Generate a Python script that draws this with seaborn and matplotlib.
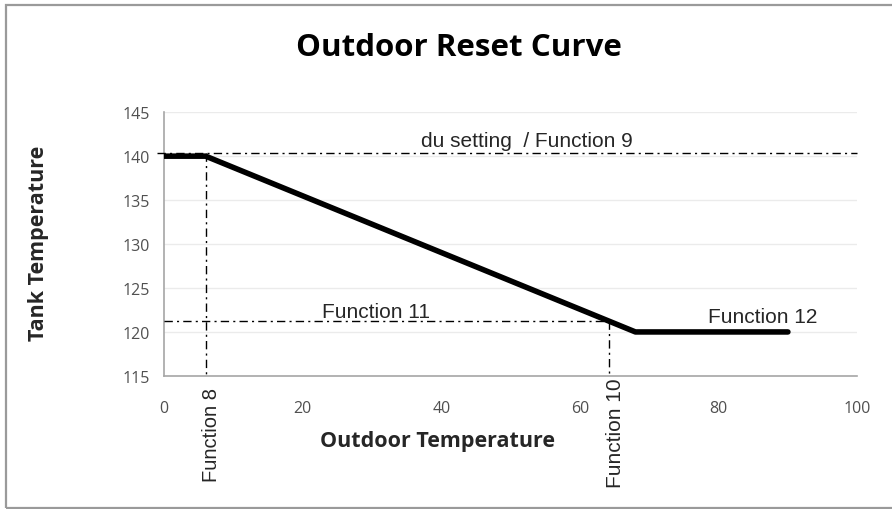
import matplotlib
matplotlib.use("Agg")
import matplotlib.pyplot as plt
import seaborn as sns
import pandas as pd
from matplotlib.patches import Rectangle

# Reset curve break points
outdoor_temp = [0, 6, 68, 90]
tank_temp = [140, 140, 120, 120]

# Reference settings
setting_max = 140.4     # du setting / Function 9
setting_low = 121.2     # Function 11
outdoor_f8 = 6          # Function 8
outdoor_f10 = 64.2      # Function 10

x_ticks = [0, 20, 40, 60, 80, 100]
y_ticks = [115, 120, 125, 130, 135, 140, 145]

sns.set_theme(style="white")
plt.rcParams["font.family"] = ["Liberation Sans", "DejaVu Sans"]
head_font = ["Open Sans", "DejaVu Sans"]

fig = plt.figure(figsize=(8.92, 5.10), dpi=100)
ax = fig.add_axes([0.184, 0.261, 0.777, 0.517])

df = pd.DataFrame({"Outdoor Temperature": outdoor_temp, "Tank Temperature": tank_temp})
sns.lineplot(data=df, x="Outdoor Temperature", y="Tank Temperature", ax=ax,
             color="black", linewidth=4, solid_capstyle="round", zorder=5)

ax.set_xlim(0, 100)
ax.set_ylim(115, 145)
ax.set_xticks(x_ticks)
ax.set_yticks(y_ticks)
ax.grid(axis="y", color="#ebebeb", linewidth=1)
ax.grid(axis="x", visible=False)
for s in ["top", "right"]:
    ax.spines[s].set_visible(False)
for s in ["left", "bottom"]:
    ax.spines[s].set_color("#a6a6a6")
    ax.spines[s].set_linewidth(1.2)
ax.tick_params(length=0, colors="#505050")
ax.tick_params(axis="y", pad=10)
ax.tick_params(axis="x", pad=17)
for lab in ax.get_xticklabels() + ax.get_yticklabels():
    lab.set_family(head_font)
    lab.set_fontsize(11.5)

ax.set_xlabel("Outdoor Temperature", fontsize=15.5, fontweight="bold",
              family=head_font, color="#262626")
ax.xaxis.set_label_coords(0.395, -0.205)
ax.set_ylabel("Tank Temperature", fontsize=15.5, fontweight="bold",
              family=head_font, color="#262626")
ax.yaxis.set_label_coords(-0.166, 0.508)

fig.text(0.515, 0.906, "Outdoor Reset Curve", ha="center", va="center",
         fontsize=22.5, fontweight="bold", family=head_font, color="black")

dash = dict(color="black", linewidth=1, linestyle=(0, (6, 3, 1.5, 3)), zorder=4)
ax.plot([-1, 100], [setting_max, setting_max], clip_on=False, **dash)
ax.plot([0, outdoor_f10], [setting_low, setting_low], clip_on=False, **dash)
ax.plot([outdoor_f8, outdoor_f8], [setting_max, 115], clip_on=False, **dash)
ax.plot([outdoor_f10, outdoor_f10], [setting_low, 115], clip_on=False, **dash)

ax.text(52.3, 141.1, "du setting  / Function 9", ha="center", va="baseline", fontsize=15, zorder=3)
ax.text(30.6, 121.7, "Function 11", ha="center", va="baseline", fontsize=15)
ax.text(86.3, 121.1, "Function 12", ha="center", va="baseline", fontsize=15)
ax.text(6.8, 113.7, "Function 8", rotation=90, ha="center", va="top",
        fontsize=14.5, clip_on=False)
ax.text(65.1, 114.8, "Function 10", rotation=90, ha="center", va="top",
        fontsize=15, clip_on=False)

fig.patches.append(Rectangle((6 / 892, 1 / 510), 900 / 892, (504 - 1) / 510,
                             transform=fig.transFigure, fill=False,
                             edgecolor="#9a9a9a", linewidth=1.6))

fig.savefig("out.png", dpi=100)
